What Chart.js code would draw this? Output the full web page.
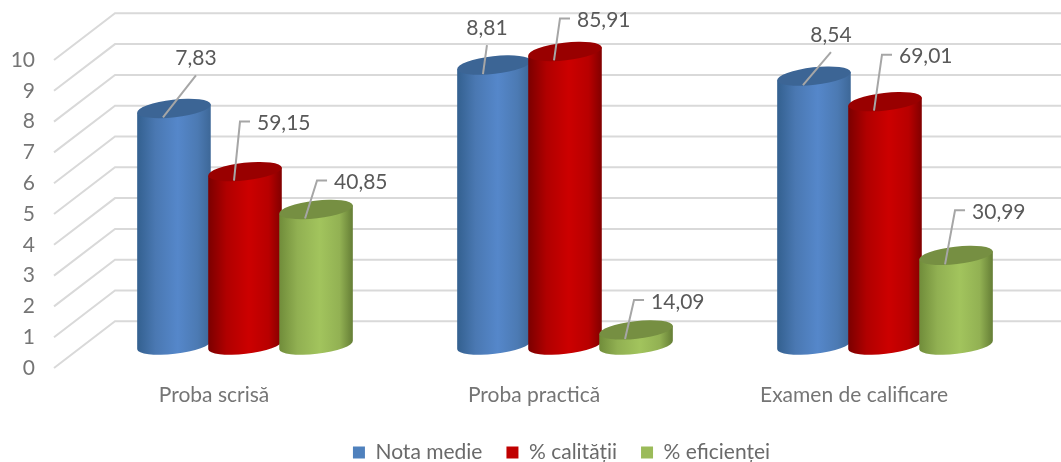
<!DOCTYPE html>
<html lang="ro">
<head>
    <meta charset="UTF-8">
    <title>Rezultate examen</title>
    <script src="https://cdn.jsdelivr.net/npm/chart.js"></script>
    <style>
        html, body { margin: 0; background: #fff; }
        canvas { display: block; }
    </style>
</head>
<body>
    <canvas id="grafic" width="1061" height="462"></canvas>

    <script>
        const categorii = ['Proba scrisă', 'Proba practică', 'Examen de calificare'];
        const serii = ['Nota medie', '% calității', '% eficienței'];

        // Heights (0-10 axis)
        const notaMedie = [7.68, 9.09, 8.73];
        const calitate = [5.63, 9.53, 7.90];
        const eficienta = [4.40, 0.49, 2.91];

        // The printed labels do not equal the drawn heights in the original
        const etichete = [
            ['7,83', '8,81', '8,54'],
            ['59,15', '85,91', '69,01'],
            ['40,85', '14,09', '30,99']
        ];

        const culori = ['#4f81bd', '#c00000', '#9bbb59'];
        // gradient across the body, left to right, then the top cap
        const nuante = [
            ['#33608f', '#4a78b2', '#5587ca', '#4c7ab3', '#3d6797', '#3c6595'],
            ['#7a0000', '#b00000', '#cc0000', '#b80000', '#800000', '#990000'],
            ['#708c3a', '#91b052', '#a2c45d', '#92b153', '#647d35', '#768f42']
        ];
        const opriri = [0, 0.25, 0.55, 0.82, 1];

        // leader line end, relative to a point on the cap
        const linii = [
            [[33, -42], [4, -29], [28, -33]],
            [[6, -59], [6, -42], [8, -56]],
            [[12, -38], [9, -39], [10, -54]]
        ];

        // depth of the 3D box: back wall offset, the bars stand half way in
        const adancimeX = 61, adancimeY = -46.7;
        const barX = 31, barY = -23;

        function cilindru(ctx, cx, sus, jos, rx, n) {
            const ry = 8.8, rot = -0.113;
            const dx = rx * Math.cos(rot), dy = rx * Math.sin(rot);
            const g = ctx.createLinearGradient(cx - rx, 0, cx + rx, 0);
            opriri.forEach((o, i) => g.addColorStop(o, n[i]));
            ctx.beginPath();
            ctx.moveTo(cx - dx, sus - dy);
            ctx.lineTo(cx - dx, jos - dy);
            ctx.ellipse(cx, jos, rx, ry, rot, Math.PI, 0, true);
            ctx.lineTo(cx + dx, sus + dy);
            ctx.closePath();
            ctx.fillStyle = g;
            ctx.fill();
            ctx.beginPath();
            ctx.ellipse(cx, sus, rx, ry, rot, 0, Math.PI * 2);
            ctx.fillStyle = n[5];
            ctx.fill();
        }

        const grila3d = {
            id: 'grila3d',
            beforeDatasetsDraw(chart) {
                const ctx = chart.ctx, y = chart.scales.y, x0 = chart.scales.x.left;
                ctx.save();
                ctx.strokeStyle = '#d9d9d9';
                ctx.lineWidth = 2;
                y.ticks.forEach(t => {
                    const py = y.getPixelForValue(t.value);
                    ctx.beginPath();
                    ctx.moveTo(x0, py);
                    ctx.lineTo(x0 + adancimeX, py + adancimeY);
                    ctx.lineTo(chart.width, py + adancimeY);
                    ctx.stroke();
                });
                ctx.restore();
            }
        };

        const cilindri = {
            id: 'cilindri',
            // bars are replaced by cylinders, drawn left to right afterwards
            beforeDatasetDraw() { return false; },
            afterDatasetsDraw(chart) {
                const ctx = chart.ctx;
                ctx.save();
                serii.forEach((s, i) => {
                    chart.getDatasetMeta(i).data.forEach(b => {
                        cilindru(ctx, b.x + barX, b.y + barY, b.base + barY, b.width / 2 + 1.5, nuante[i]);
                    });
                });
                ctx.lineWidth = 2;
                ctx.strokeStyle = '#a6a6a6';
                ctx.fillStyle = '#595959';
                ctx.font = '21px Lato';
                ctx.textBaseline = 'middle';
                serii.forEach((s, i) => {
                    chart.getDatasetMeta(i).data.forEach((b, j) => {
                        const ax = b.x + barX - 11, ay = b.y + barY + 9;
                        const ex = ax + linii[i][j][0], ey = ay + linii[i][j][1];
                        ctx.beginPath();
                        ctx.moveTo(ax, ay);
                        ctx.lineTo(ex, ey);
                        if (i > 0) ctx.lineTo(ex + 10, ey);
                        ctx.stroke();
                        if (i > 0) {
                            ctx.textAlign = 'left';
                            ctx.fillText(etichete[i][j], ex + 17, ey + 2);
                        } else {
                            ctx.textAlign = 'center';
                            ctx.fillText(etichete[i][j], ex, ey - 17);
                        }
                    });
                });
                ctx.restore();
            }
        };

        // legend sits off centre in the original, and the axis labels need room under it
        const legendaMutata = {
            id: 'legendaMutata',
            afterLayout(chart) {
                const l = chart.legend;
                l.left = 62;
                l.right = 1061;
                l.top = 418;
                l.bottom = 462;
                chart.scales.x.bottom = 462;
            }
        };

        const date = [notaMedie, calitate, eficienta];

        new Chart(document.getElementById('grafic').getContext('2d'), {
            type: 'bar',
            data: {
                labels: categorii,
                datasets: serii.map((s, i) => ({
                    label: s,
                    data: date[i],
                    backgroundColor: culori[i],
                    categoryPercentage: 0.666,
                    barPercentage: 1
                }))
            },
            options: {
                responsive: false,
                animation: false,
                layout: { padding: { top: 60, right: 47, left: 0, bottom: 0 } },
                plugins: {
                    tooltip: { enabled: false },
                    legend: {
                        position: 'bottom',
                        labels: {
                            boxWidth: 12,
                            boxHeight: 12,
                            padding: 24,
                            color: '#6a6a6a',
                            font: { family: 'Lato', size: 21 }
                        }
                    }
                },
                scales: {
                    x: {
                        grid: { display: false },
                        border: { display: false },
                        ticks: { padding: 7, color: '#757575', font: { family: 'Lato', size: 21 } },
                        afterFit(scale) { scale.height = 94 - scale.chart.legend.height; }
                    },
                    y: {
                        min: 0,
                        max: 10,
                        grid: { display: false },
                        border: { display: false },
                        ticks: { stepSize: 1, padding: 11, color: '#757575', font: { family: 'Lato', size: 21 } },
                        afterFit(scale) { scale.width = 54; }
                    }
                }
            },
            plugins: [grila3d, cilindri, legendaMutata]
        });
    </script>
</body>
</html>
